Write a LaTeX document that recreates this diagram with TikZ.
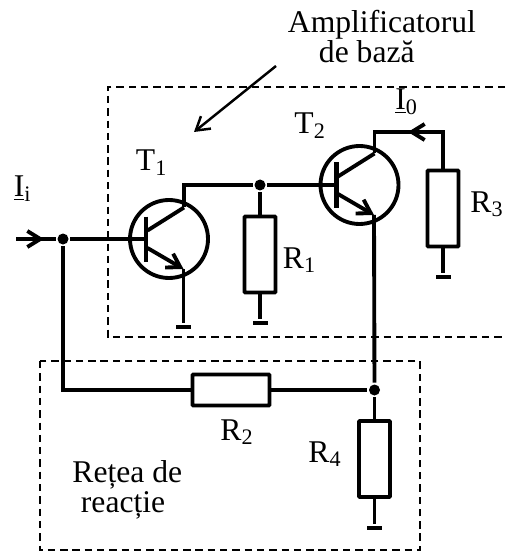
\documentclass[tikz,border=0pt]{standalone}
\usepackage{fontspec}
\setmainfont{Liberation Serif}
\usetikzlibrary{shapes,arrows,arrows.meta,positioning,calc}

\begin{document}
\begin{tikzpicture}[on grid, >={Straight Barb[length=.26cm, width=.32cm]}, line width=2.2pt, font=\fontsize{18}{20}\selectfont,
    tbox/.style={circle, draw, inner sep=0pt, minimum size=1.56cm},
    rvert/.style={rectangle, draw, fill=white, rounded corners=.5pt, inner sep=0pt, minimum width=.62cm, minimum height=1.52cm},
    rhoriz/.style={rectangle, draw, fill=white, rounded corners=.5pt, inner sep=0pt, minimum width=1.54cm, minimum height=.62cm},
    dot/.style={circle, fill=black, inner sep=0pt, minimum size=.22cm},
    gnd/.style={rectangle, fill=black, inner sep=0pt, minimum width=.3cm, minimum height=.08cm},
    lbl/.style={anchor=base west, inner sep=0pt},
    dashbox/.style={line width=1pt, dash pattern=on 4.2pt off 2.8pt}]
    \useasboundingbox (0,0) rectangle (10.1,-11.06);

    % dashed outlines
    \draw[dashbox] (10.1,-1.74) -- (2.16,-1.74) -- (2.16,-6.74) -- (10.1,-6.74);
    \draw[dashbox] (.8,-7.22) rectangle (8.4,-11);

    % transistors and resistors
    \node[tbox] (t1) at (3.38,-4.78) {};
    \node[rvert, below right=.31cm and 1.82cm of t1] (r1) {};
    \node[dot, above=1.39cm of r1] (j1) {};
    \node[tbox, right=1.99cm of j1] (t2) {};
    \node[rvert, below right=.47cm and 1.67cm of t2] (r3) {};
    \node[dot, below right=4.1cm and .3cm of t2] (j2) {};
    \node[rhoriz, left=2.87cm of j2] (r2) {};
    \node[rvert, below=1.38cm of j2] (r4) {};
    \node[dot, left=2.12cm of t1] (j3) {};

    % inside of the transistors
    \foreach \t in {t1,t2} {
        \coordinate (\t b) at ($(\t)+(-.46,0)$);
        \coordinate (\t c) at ($(\t)+(.3,.63)$);
        \coordinate (\t e) at ($(\t)+(.29,-.6)$);
        \draw[line width=2.4pt] ($(\t)+(-.46,.45)$) -- ($(\t)+(-.46,-.46)$);
        \draw ($(\t)+(-.43,.17)$) -- (\t c);
        \draw[->] ($(\t)+(-.43,-.18)$) -- (\t e);
    }

    % ground bars
    \node[gnd, below=1.08cm of t1e] (g1) {};
    \node[gnd, below=1.37cm of r1] (g2) {};
    \node[gnd, below=1.37cm of r3] (g3) {};
    \node[gnd, below=1.38cm of r4] (g4) {};

    % wires
    \coordinate (iin) at (.32,-4.78);
    \coordinate[right=.56cm of iin] (iarr);
    \coordinate[above=1.53cm of r3] (r3top);
    \coordinate[left=.7cm of r3top] (i0arr);
    \draw (iin) -- (j3);
    \draw[->] (iin) -- (iarr);
    \draw (j3) -- (t1b);
    \draw (j3) |- (r2);
    \draw (r2) -- (j2);
    \draw (j2) -- (r4);
    \draw (r4) -- (g4);
    \draw (t1c) |- (j1);
    \draw (j1) -- (t2b);
    \draw (j1) -- (r1);
    \draw (r1) -- (g2);
    \draw (t1e) -- (g1);
    \draw (t2e) -- (j2);
    \draw (r3) -- (r3top) -| (t2c);
    \draw[->] (r3top) -- (i0arr);
    \draw (r3) -- (g3);

    % arrow to the amplifier
    \coordinate (a1) at (5.52,-1.32);
    \coordinate (a2) at (3.88,-2.64);
    \draw[->, line width=1.4pt] (a1) -- (a2);

    % labels
    \node[lbl] (ampl) at (5.72,-.66) {Amplificatorul};
    \node[lbl] (baza) at (6.34,-1.25) {de bază};
    \node[lbl] (lt1) at (2.68,-3.42) {T\textsubscript{1}};
    \node[lbl] (lt2) at (5.85,-2.68) {T\textsubscript{2}};
    \node[lbl] (li) at (.24,-3.94) {\underline{I}\textsubscript{i}};
    \node[lbl] (l0) at (7.87,-2.2) {\underline{I}\textsubscript{0}};
    \node[lbl] (lr1) at (5.62,-5.36) {R\textsubscript{1}};
    \node[lbl] (lr2) at (4.37,-8.8) {R\textsubscript{2}};
    \node[lbl] (lr3) at (9.37,-4.24) {R\textsubscript{3}};
    \node[lbl] (lr4) at (6.13,-9.24) {R\textsubscript{4}};
    \node[lbl] (ret1) at (1.41,-9.64) {Rețea de};
    \node[lbl] (ret2) at (1.58,-10.24) {reacție};
\end{tikzpicture}
\end{document}
